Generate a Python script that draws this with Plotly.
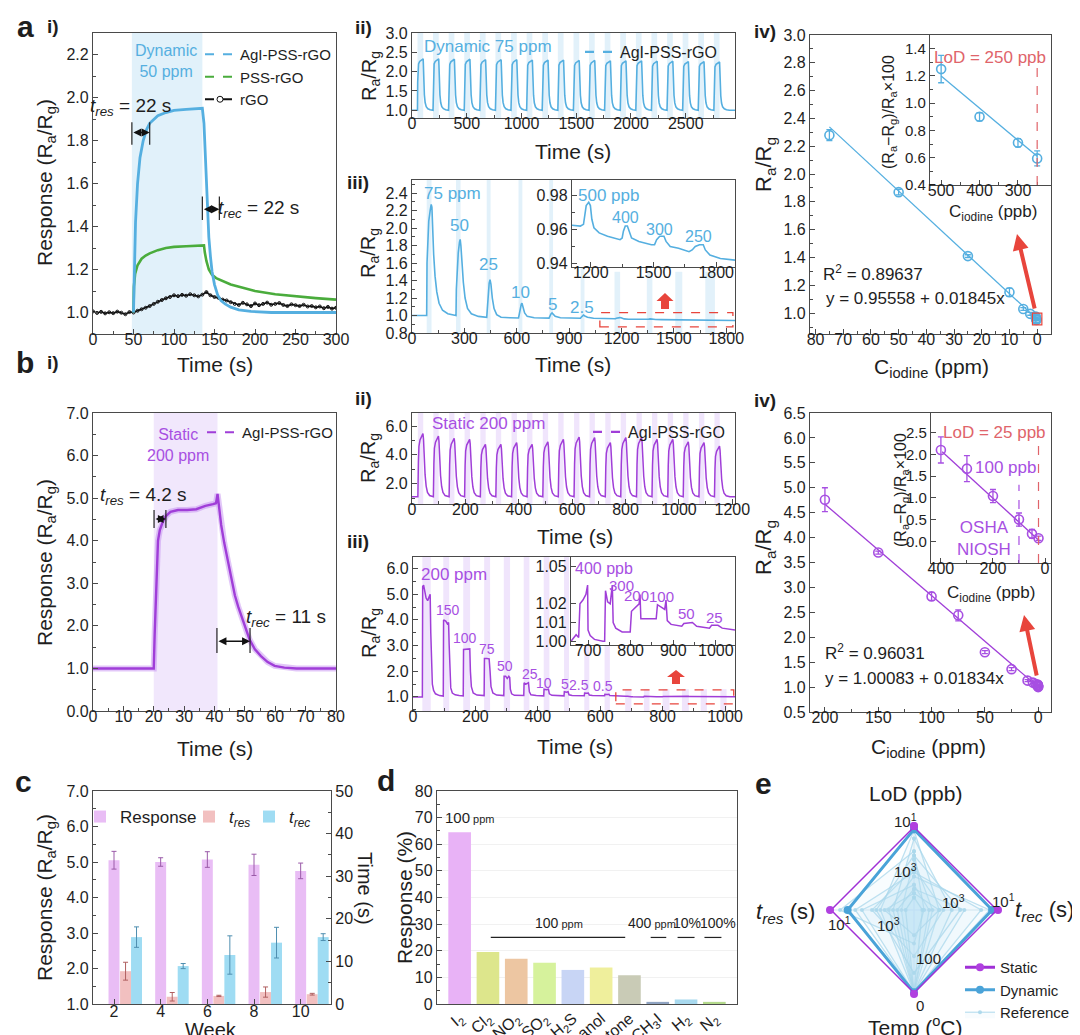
import plotly.graph_objects as go

W, H = 1080, 1035
FONT = "Liberation Sans, Arial, Helvetica, sans-serif"
INK = "#1e1e1e"
AXC = "#4a4a4a"
BLUE = "#55afe0"
BLUE_BAND = "rgba(150,205,238,0.28)"
PURPLE = "#a03ed8"
PURPLE_TXT = "#a74fe2"
PURPLE_BAND = "rgba(205,170,245,0.30)"
GREEN = "#4aac3c"
RED = "#e8453c"
RED_TXT = "#e0646a"

# ---------------- data: a(i) ----------------
A1_AGI_T = [50, 51, 52.5, 55, 58, 62, 66, 70, 75, 80, 90, 100, 115, 135, 137, 139, 141, 143, 145, 147,
            150, 154, 158, 163, 170, 180, 195, 220, 260, 300]
A1_AGI_Y = [1.0, 1.2, 1.42, 1.6, 1.72, 1.8, 1.85, 1.88, 1.9, 1.915, 1.93, 1.94, 1.945, 1.95, 1.88, 1.72,
            1.5, 1.35, 1.26, 1.19, 1.13, 1.08, 1.055, 1.04, 1.025, 1.012, 1.005, 1.0, 1.0, 1.0]
A1_PSS_T = [50, 50.5, 52, 55, 60, 65, 70, 80, 90, 100, 115, 137, 138, 140, 143, 147, 152, 160, 170, 185,
            200, 225, 250, 275, 300]
A1_PSS_Y = [1.0, 1.12, 1.18, 1.22, 1.25, 1.265, 1.275, 1.29, 1.30, 1.305, 1.308, 1.312, 1.28, 1.24, 1.2,
            1.175, 1.16, 1.145, 1.13, 1.115, 1.1, 1.085, 1.075, 1.067, 1.06]
A1_RGO_T = list(range(0, 301, 5))
A1_RGO_Y = [1.005, 0.998, 1.003, 0.996, 1.001, 0.997, 1.004, 0.999, 0.992, 1.002, 1.000,
            1.008, 1.015, 1.022, 1.030, 1.040, 1.050, 1.058, 1.066, 1.072, 1.080,
            1.076, 1.082, 1.078, 1.085, 1.080, 1.075, 1.083, 1.095, 1.080, 1.072,
            1.068, 1.060, 1.056, 1.048, 1.040, 1.035, 1.045, 1.038, 1.030, 1.042,
            1.034, 1.040, 1.046, 1.036, 1.040, 1.044, 1.035, 1.030, 1.038, 1.034,
            1.030, 1.036, 1.028, 1.030, 1.024, 1.028, 1.020, 1.026, 1.018, 1.022]

# ---------------- data: a(ii) cycles ----------------
A2_STARTS = [50, 192, 335, 477, 620, 762, 905, 1047, 1190, 1332, 1475, 1617, 1760, 1902, 2045, 2187,
             2330, 2472, 2615, 2757]
A2_PEAKS = [2.33, 2.33, 2.32, 2.32, 2.31, 2.31, 2.31, 2.30, 2.30, 2.30, 2.29, 2.29, 2.28, 2.28, 2.28,
            2.27, 2.27, 2.26, 2.26, 2.25]
A2_BASE = 1.0
A2_SHAPE_DT = [0, 2, 5, 10, 20, 35, 52, 54, 58, 63, 70, 80, 95, 115, 142]
A2_SHAPE_F = [0, 0.55, 0.8, 0.9, 0.95, 0.98, 1.0, 0.88, 0.55, 0.3, 0.15, 0.07, 0.03, 0.01, 0]
A2_ON = 52

# ---------------- data: a(iii) ----------------
A3_T = [0, 84, 86, 90, 96, 104, 110, 114, 118, 124, 132, 142, 155, 175, 205, 250,
        252, 254, 259, 265, 272, 276, 280, 286, 294, 304, 318, 340, 380, 428,
        430, 436, 442, 447, 452, 460, 470, 485, 510, 560, 610,
        613, 620, 626, 630, 636, 645, 660, 700, 785,
        788, 795, 802, 808, 820, 850, 965,
        968, 975, 982, 990, 1005, 1040, 1100]
A3_Y = [1.0, 1.0, 1.6, 1.9, 2.08, 2.2, 2.27, 2.24, 2.0, 1.7, 1.45, 1.27, 1.14, 1.06, 1.02, 1.0,
        1.0, 1.3, 1.55, 1.72, 1.84, 1.87, 1.8, 1.6, 1.38, 1.2, 1.08, 1.02, 0.99, 0.98,
        1.05, 1.25, 1.37, 1.41, 1.36, 1.2, 1.08, 1.01, 0.98, 0.975, 0.972,
        1.0, 1.09, 1.13, 1.14, 1.1, 1.03, 0.99, 0.975, 0.97,
        0.985, 1.015, 1.03, 1.02, 0.99, 0.975, 0.968,
        0.978, 0.995, 1.005, 0.995, 0.98, 0.968, 0.963]
A3I_T = [1110, 1150, 1165, 1170, 1178, 1190, 1198, 1205, 1215, 1240, 1280, 1340, 1350, 1356, 1365, 1375,
         1382, 1395, 1430, 1490, 1505, 1515, 1530, 1550, 1560, 1580, 1620, 1670, 1685, 1700, 1720, 1738,
         1748, 1770, 1820, 1890]
A3I_Y = [0.9625, 0.962, 0.963, 0.968, 0.974, 0.976, 0.974, 0.966, 0.961, 0.958, 0.956, 0.954, 0.955,
         0.959, 0.962, 0.962, 0.959, 0.955, 0.953, 0.951, 0.951, 0.954, 0.956, 0.956, 0.953, 0.950,
         0.949, 0.947, 0.948, 0.950, 0.951, 0.951, 0.948, 0.945, 0.943, 0.942]
A3_BANDS = [(84, 112), (252, 278), (428, 450), (610, 632), (786, 808), (966, 988)]
A3I_BANDS = [(1160, 1192), (1345, 1377), (1508, 1548), (1680, 1735)]
A3_LABELS = ["50", "25", "10", "5", "2.5"]
A3_LABEL_T = [273, 440, 620, 806, 975]
A3_LABEL_Y = [2.03, 1.58, 1.26, 1.13, 1.09]
A3I_LABELS = ["400", "300", "250"]
A3I_LABEL_T = [1365, 1528, 1716]
A3I_LABEL_Y = [0.967, 0.960, 0.956]

# ---------------- data: a(iv) ----------------
A4_X = [75, 50, 25, 10, 5, 2.5, 0.5, 0.4, 0.3, 0.25]
A4_Y = [2.28, 1.87, 1.41, 1.15, 1.03, 0.995, 0.975, 0.962, 0.956, 0.951]
A4_E = [0.04, 0.02, 0.01, 0.03, 0.01, 0.01, 0.005, 0.003, 0.003, 0.003]
A4_FIT = (0.95558, 0.01845)
A4_FIT_X = [75, 0]
A4I_X = [500, 400, 300, 250]
A4I_Y = [1.25, 0.90, 0.71, 0.595]
A4I_E = [0.10, 0.03, 0.03, 0.055]
A4I_FIT_X = [500, 250]
A4I_FIT_Y = [1.20, 0.61]

# ---------------- data: b(i) ----------------
B1_T = [0, 20, 20.3, 20.8, 21.4, 22, 23, 24, 25.5, 28, 31, 34, 37, 39.5, 40.5, 41, 41.6, 42.2, 43.2, 44.4,
        45.5, 46.7, 47.8, 48.8, 50.2, 51.6, 53.3, 55.3, 57.5, 59.8, 63, 67, 80]
B1_Y = [1.0, 1.0, 1.8, 3.0, 4.0, 4.25, 4.45, 4.58, 4.68, 4.72, 4.72, 4.74, 4.82, 4.86, 4.88, 5.1, 4.75,
        4.37, 3.95, 3.52, 3.1, 2.72, 2.45, 2.23, 1.93, 1.67, 1.45, 1.29, 1.15, 1.06, 1.02, 1.0, 1.0]

# ---------------- data: b(ii) cycles ----------------
B2_STARTS = [22, 80, 139, 197, 256, 314, 373, 431, 490, 548, 607, 665, 724, 782, 841, 899, 958, 1016,
             1075, 1133]
B2_PEAKS = [5.47, 5.30, 5.15, 5.08, 4.73, 4.73, 4.85, 4.73, 4.90, 5.07, 5.24, 5.20, 4.85, 5.20, 5.20,
            5.08, 5.08, 4.90, 4.85, 4.60]
B2_BASE = 1.1
B2_SHAPE_DT = [0, 2, 4, 8, 14, 19, 21, 24, 27, 31, 36, 44, 58]
B2_SHAPE_F = [0, 0.55, 0.8, 0.9, 0.95, 1.0, 0.92, 0.6, 0.35, 0.17, 0.07, 0.02, 0]
B2_ON = 20

# ---------------- data: b(iii) ----------------
B3_T = [0, 30, 31, 34, 38, 42, 47, 52, 55, 57, 59, 62, 66, 72, 85, 97,
        98, 105, 110, 114, 116, 118, 121, 126, 135, 148, 161,
        162, 172, 182, 184, 187, 193, 205, 228,
        229, 236, 244, 247, 250, 256, 268, 291,
        292, 297, 302, 307, 310, 312, 316, 325, 355,
        356, 362, 370, 373, 378, 395, 419,
        420, 428, 434, 437, 445, 484,
        485, 492, 497, 500, 510, 549,
        550, 556, 562, 565, 575, 614,
        615, 622, 628, 631, 645, 660]
B3_Y = [1.0, 1.0, 5.3, 5.35, 5.1, 4.85, 4.75, 4.95, 5.0, 3.5, 2.0, 1.5, 1.25, 1.12, 1.05, 1.03,
        4.0, 3.95, 3.85, 3.9, 3.0, 1.8, 1.35, 1.15, 1.08, 1.05, 1.04,
        2.85, 2.85, 2.87, 2.0, 1.4, 1.15, 1.07, 1.05,
        2.5, 2.5, 2.48, 2.0, 1.4, 1.15, 1.07, 1.05,
        1.8, 1.8, 1.72, 1.8, 1.75, 1.3, 1.12, 1.06, 1.05,
        1.55, 1.5, 1.55, 1.2, 1.08, 1.05, 1.04,
        1.3, 1.28, 1.3, 1.12, 1.06, 1.04,
        1.2, 1.18, 1.2, 1.08, 1.05, 1.04,
        1.15, 1.14, 1.15, 1.07, 1.05, 1.04,
        1.1, 1.09, 1.1, 1.05, 1.035, 1.02]
B3I_T = [660, 672, 678, 681, 688, 695, 699, 700, 705, 715, 735, 739, 741, 746, 752, 757, 759, 765, 780,
         799, 802, 812, 820, 822, 824, 835, 860, 863, 872, 880, 883, 886, 895, 920, 925, 945, 955, 985,
         990, 1005, 1015, 1045]
B3I_Y = [1.0, 1.0035, 1.002, 1.02, 1.022, 1.025, 1.03, 1.006, 1.003, 1.001, 1.0, 1.0, 1.027, 1.021,
         1.02, 1.03, 1.01, 1.007, 1.005, 1.005, 1.016, 1.018, 1.02, 1.025, 1.012, 1.012, 1.012, 1.0195,
         1.018, 1.017, 1.022, 1.011, 1.009, 1.008, 1.0095, 1.01, 1.008, 1.007, 1.0085, 1.0085, 1.007,
         1.006]
B3_BANDS = [(30, 57), (97, 116), (161, 183), (228, 247), (291, 311), (355, 373), (419, 437),
            (484, 500), (549, 565), (614, 631)]
B3I_BANDS = [(680, 700), (740, 758), (800, 822), (862, 884), (922, 942), (985, 1005)]
B3_LABELS = ["150", "100", "75", "50", "25", "10", "5", "2.5", "0.5"]
B3_LABEL_T = [111, 168, 238, 296, 375, 419, 486, 532, 610]
B3_LABEL_Y = [4.4, 3.3, 2.85, 2.2, 1.9, 1.55, 1.5, 1.45, 1.42]
B3I_LABELS = ["300", "200", "100", "50", "25"]
B3I_LABEL_T = [778, 813, 873, 930, 997]
B3I_LABEL_Y = [1.030, 1.0247, 1.024, 1.015, 1.0126]

# ---------------- data: b(iv) ----------------
B4_X = [200, 150, 100, 75, 50, 25, 10, 5, 2.5, 0.5, 0.4, 0.3, 0.2, 0.1, 0.05, 0.025]
B4_Y = [4.76, 3.70, 2.82, 2.44, 1.70, 1.36, 1.13, 1.09, 1.06, 1.05, 1.04, 1.03, 1.03, 1.02, 1.01, 1.0]
B4_E = [0.24, 0.03, 0.08, 0.11, 0.03, 0.03, 0.02, 0.02, 0.02, 0.01, 0.01, 0.01, 0.01, 0.01, 0.01, 0.01]
B4_FIT = (1.00083, 0.01834)
B4_FIT_X = [200, 0]
B4I_X = [400, 300, 200, 100, 50, 25]
B4I_Y = [2.10, 1.67, 1.04, 0.50, 0.17, 0.07]
B4I_E = [0.30, 0.30, 0.15, 0.15, 0.10, 0.05]
B4I_FIT_X = [395, 20]
B4I_FIT_Y = [2.06, 0.0]

# ---------------- data: c ----------------
WEEKS = [2, 4, 6, 8, 10]
RESP = [5.05, 5.00, 5.07, 4.92, 4.75]
RESP_E = [0.25, 0.12, 0.22, 0.30, 0.22]
TRES = [7.7, 1.7, 1.9, 2.8, 2.3]
TRES_E = [2.1, 1.0, 0.15, 1.2, 0.2]
TREC = [15.7, 8.9, 11.5, 14.4, 15.7]
TREC_E = [2.4, 0.6, 4.5, 3.6, 0.8]

# ---------------- data: d ----------------
GASES = ["I<sub>2</sub>", "Cl<sub>2</sub>", "NO<sub>2</sub>", "SO<sub>2</sub>", "H<sub>2</sub>S",
         "Ethanol", "Acetone", "CH<sub>3</sub>I", "H<sub>2</sub>", "N<sub>2</sub>"]
GAS_RESP = [64.5, 19.5, 17.0, 15.5, 12.8, 13.7, 10.8, 0.8, 1.7, 0.8]
GAS_COLORS = ["#e8b2f6", "#dde68c", "#edc6a2", "#d6f29c", "#c8d5f5", "#efef9c", "#c9cbb6", "#90a4c2",
              "#a8d9ee", "#b4da8c"]

# ---------------- data: e ----------------
RADAR_AXES = ["LoD", "trec", "Temp", "tres"]
STATIC_R = [1.0, 1.0, 1.0, 1.0]
DYNAMIC_R = [0.96, 0.93, 0.98, 0.79]
REFERENCE_R = [
    [0.95, 0.30, 0.98, 0.40],
    [0.60, 0.22, 0.98, 0.15],
    [0.40, 0.90, 0.98, 0.30],
    [0.50, 0.35, 0.55, 0.50],
    [0.30, 0.18, 0.98, 0.62],
    [0.70, 0.12, 0.40, 0.88],
    [0.25, 0.60, 0.98, 0.20],
    [0.85, 0.45, 0.98, 0.25],
    [0.20, 0.30, 0.30, 0.35],
    [0.45, 0.80, 0.98, 0.70],
    [0.15, 0.10, 0.98, 0.10],
    [0.65, 0.55, 0.75, 0.45],
]


# ---------------- helpers ----------------
def build_cycles(starts, peaks, base, dts, fracs, t_end):
    xs, ys = [0.0], [base]
    for s, p in zip(starts, peaks):
        for dt, f in zip(dts, fracs):
            xs.append(s + dt)
            ys.append(base + f * (p - base))
    xs.append(t_end)
    ys.append(base)
    return xs, ys


def xdom(a, b):
    return [a / W, b / W]


def ydom(top, bottom):
    return [1 - bottom / H, 1 - top / H]


def PX(x):
    return x / W


def PY(y):
    return 1 - y / H


def axis(domain, anchor, rng, minor=None, tfs=16, **kw):
    d = dict(domain=domain, anchor=anchor, range=rng, showline=True, linecolor=AXC, linewidth=1.3,
             mirror=True, ticks="inside", ticklen=5, tickwidth=1.2, tickcolor=AXC, showgrid=False,
             zeroline=False, automargin=False, fixedrange=True,
             tickfont=dict(family=FONT, size=tfs, color=INK))
    if minor is not None:
        d["minor"] = dict(dtick=minor, ticks="inside", ticklen=3, tickwidth=1, tickcolor=AXC, showgrid=False)
    d.update(kw)
    return d


def xaxis(domain, anchor, rng, **kw):
    kw.setdefault("ticklabelstandoff", -9)
    return axis(domain, anchor, rng, **kw)


traces = []
shapes = []
annotations = []


def add_ann(text, x, y, xref="paper", yref="paper", size=16, color=INK, xanchor="center",
            yanchor="middle", bold=False, **kw):
    if bold:
        text = "<b>" + text + "</b>"
    annotations.append(dict(text=text, x=x, y=y, xref=xref, yref=yref, showarrow=False,
                            xanchor=xanchor, yanchor=yanchor,
                            font=dict(family=FONT, size=size, color=color), **kw))


def add_title(text, xpx, ypx, size=21, vertical=False):
    add_ann(text, PX(xpx), PY(ypx), size=size, textangle=-90 if vertical else 0)


def add_band(xa, ya, x0, x1, color, y0=None, y1=None):
    if y0 is None:
        shapes.append(dict(type="rect", xref=xa, yref=ya + " domain", x0=x0, x1=x1, y0=0, y1=1,
                           fillcolor=color, line=dict(width=0), layer="below"))
    else:
        shapes.append(dict(type="rect", xref=xa, yref=ya, x0=x0, x1=x1, y0=y0, y1=y1,
                           fillcolor=color, line=dict(width=0), layer="below"))


def add_dbl_arrow(xa, ya, x0, x1, y, ybar0, ybar1):
    for xv in (x0, x1):
        shapes.append(dict(type="line", xref=xa, yref=ya, x0=xv, x1=xv, y0=ybar0, y1=ybar1,
                           line=dict(color="#222", width=1.2)))
    annotations.append(dict(text="", x=x1, y=y, ax=x0, ay=y, xref=xa, yref=ya, axref=xa, ayref=ya,
                            showarrow=True, arrowhead=2, arrowside="end+start", arrowsize=1,
                            arrowwidth=1.6, arrowcolor="#111"))


def block_arrow(cx, top, head_h, head_w, stem_h, stem_w):
    pts = [(cx, top), (cx + head_w / 2, top + head_h), (cx + stem_w / 2, top + head_h),
           (cx + stem_w / 2, top + head_h + stem_h), (cx - stem_w / 2, top + head_h + stem_h),
           (cx - stem_w / 2, top + head_h), (cx - head_w / 2, top + head_h)]
    path = "M " + " L ".join(f"{PX(x):.5f},{PY(y):.5f}" for x, y in pts) + " Z"
    shapes.append(dict(type="path", xref="paper", yref="paper", path=path, fillcolor=RED,
                       line=dict(width=0)))


def legend_dummy(name, color, legend, xa, ya, marker=False):
    traces.append(go.Scatter(x=[None], y=[None], mode="lines+markers" if marker else "lines",
                             name=name, legend=legend, xaxis=xa, yaxis=ya,
                             line=dict(color=color, width=2.2, dash="dash"),
                             marker=dict(symbol="circle-open", size=6, color=color)))


# ======================= a(i) =======================
traces.append(go.Scatter(x=A1_RGO_T, y=A1_RGO_Y, mode="lines+markers", xaxis="x", yaxis="y",
                         line=dict(color="#111", width=1.6), marker=dict(symbol="circle-open", size=3,
                                                                          color="#111"),
                         showlegend=False))
traces.append(go.Scatter(x=A1_PSS_T, y=A1_PSS_Y, mode="lines", xaxis="x", yaxis="y",
                         line=dict(color=GREEN, width=2.6), showlegend=False))
traces.append(go.Scatter(x=A1_AGI_T, y=A1_AGI_Y, mode="lines", xaxis="x", yaxis="y",
                         line=dict(color=BLUE, width=2.8), showlegend=False))
legend_dummy("AgI-PSS-rGO", BLUE, "legend", "x", "y")
legend_dummy("PSS-rGO", GREEN, "legend", "x", "y")
legend_dummy("rGO", "#111", "legend", "x", "y", marker=True)
add_band("x", "y", 48, 135, "rgba(170,215,242,0.35)")
add_ann("Dynamic<br>50 ppm", 90, 2.17, "x", "y", size=16, color=BLUE)
add_ann("<i>t<sub>res</sub></i> = 22 s", 46, 1.955, "x", "y", size=19)
add_dbl_arrow("x", "y", 48, 70, 1.837, 1.78, 1.885)
add_ann("<i>t<sub>rec</sub></i> = 22 s", 204, 1.48, "x", "y", size=19)
add_dbl_arrow("x", "y", 135, 156, 1.48, 1.43, 1.54)

# ======================= a(ii) =======================
a2x, a2y = build_cycles(A2_STARTS, A2_PEAKS, A2_BASE, A2_SHAPE_DT, A2_SHAPE_F, 2950)
traces.append(go.Scatter(x=a2x, y=a2y, mode="lines", xaxis="x2", yaxis="y2",
                         line=dict(color=BLUE, width=1.6), showlegend=False))
for s in A2_STARTS:
    add_band("x2", "y2", s, s + A2_ON, BLUE_BAND)
legend_dummy("AgI-PSS-rGO", BLUE, "legend2", "x2", "y2")
add_ann("Dynamic 75 ppm", 90, 2.64, "x2", "y2", size=17, color=BLUE, xanchor="left")

# ======================= a(iii) =======================
traces.append(go.Scatter(x=A3_T + A3I_T, y=A3_Y + A3I_Y, mode="lines", xaxis="x3", yaxis="y3",
                         line=dict(color=BLUE, width=1.6), showlegend=False))
for b0, b1 in A3_BANDS:
    add_band("x3", "y3", b0, b1, BLUE_BAND)
for b0, b1 in A3I_BANDS:
    add_band("x3", "y3", b0, b1, BLUE_BAND, 0.8, 1.5)
add_ann("75 ppm", 60, 2.4, "x3", "y3", size=17, color=BLUE, xanchor="left")
for lab, t, yv in zip(A3_LABELS, A3_LABEL_T, A3_LABEL_Y):
    add_ann(lab, t, yv, "x3", "y3", size=17, color=BLUE)
shapes.append(dict(type="rect", xref="x3", yref="y3", x0=1076, x1=1838, y0=0.87, y1=1.032,
                   line=dict(color=RED, width=1.3, dash="dash")))
block_arrow(657, 285, 8, 17, 8, 8)

traces.append(go.Scatter(x=A3I_T, y=A3I_Y, mode="lines", xaxis="x4", yaxis="y4",
                         line=dict(color=BLUE, width=1.6), showlegend=False))
for b0, b1 in A3I_BANDS:
    add_band("x4", "y4", b0, b1, BLUE_BAND)
add_ann("500 ppb", 1128, 0.98, "x4", "y4", size=17, color=BLUE, xanchor="left")
for lab, t, yv in zip(A3I_LABELS, A3I_LABEL_T, A3I_LABEL_Y):
    add_ann(lab, t, yv, "x4", "y4", size=16, color=BLUE)

# ======================= a(iv) =======================
traces.append(go.Scatter(x=A4_FIT_X, y=[A4_FIT[0] + A4_FIT[1] * v for v in A4_FIT_X], mode="lines",
                         xaxis="x5", yaxis="y5", line=dict(color=BLUE, width=1.3), showlegend=False))
traces.append(go.Scatter(x=A4_X, y=A4_Y, mode="markers", xaxis="x5", yaxis="y5",
                         marker=dict(symbol="circle-open", size=9, color=BLUE, line=dict(width=1.6)),
                         error_y=dict(type="data", array=A4_E, color=BLUE, thickness=1.3, width=3),
                         showlegend=False))
add_ann("R<sup>2</sup> = 0.89637", 78, 1.29, "x5", "y5", size=17, xanchor="left")
add_ann("y = 0.95558 + 0.01845x", 77, 1.108, "x5", "y5", size=17, xanchor="left")
shapes.append(dict(type="rect", xref="x5", yref="y5", x0=1.7, x1=-1.7, y0=0.915, y1=1.0,
                   line=dict(color=RED, width=1.2)))
annotations.append(dict(text="", x=PX(1009), y=PY(226), ax=18, ay=76, xref="paper", yref="paper",
                        showarrow=True, arrowhead=2, arrowsize=0.8, arrowwidth=4, arrowcolor=RED))

traces.append(go.Scatter(x=A4I_FIT_X, y=A4I_FIT_Y, mode="lines", xaxis="x6", yaxis="y6",
                         line=dict(color=BLUE, width=1.3), showlegend=False))
traces.append(go.Scatter(x=A4I_X, y=A4I_Y, mode="markers", xaxis="x6", yaxis="y6",
                         marker=dict(symbol="circle-open", size=9, color=BLUE, line=dict(width=1.6)),
                         error_y=dict(type="data", array=A4I_E, color=BLUE, thickness=1.3, width=3),
                         showlegend=False))
shapes.append(dict(type="line", xref="x6", yref="y6", x0=250, x1=250, y0=0.4, y1=1.27,
                   line=dict(color=RED_TXT, width=1.2, dash="dash")))
add_ann("LoD = 250 ppb", 222, 1.335, "x6", "y6", size=17, color=RED_TXT, xanchor="right")

# ======================= b(i) =======================
add_band("x7", "y7", 20, 41, "rgba(215,185,245,0.35)")
traces.append(go.Scatter(x=B1_T, y=B1_Y, mode="lines", xaxis="x7", yaxis="y7",
                         line=dict(color="rgba(190,130,240,0.45)", width=6), showlegend=False))
traces.append(go.Scatter(x=B1_T, y=B1_Y, mode="lines", xaxis="x7", yaxis="y7",
                         line=dict(color=PURPLE, width=2.4), showlegend=False))
legend_dummy("AgI-PSS-rGO", PURPLE, "legend3", "x7", "y7")
add_ann("Static<br>200 ppm", 28, 6.25, "x7", "y7", size=16, color=PURPLE_TXT)
add_ann("<i>t<sub>res</sub></i> = 4.2 s", 16.5, 5.05, "x7", "y7", size=19)
add_dbl_arrow("x7", "y7", 20.1, 24.0, 4.51, 4.3, 4.72)
add_ann("<i>t<sub>rec</sub></i> = 11 s", 63.5, 2.18, "x7", "y7", size=19)
add_dbl_arrow("x7", "y7", 40.8, 51.7, 1.64, 1.36, 1.95)

# ======================= b(ii) =======================
b2x, b2y = build_cycles(B2_STARTS, B2_PEAKS, B2_BASE, B2_SHAPE_DT, B2_SHAPE_F, 1210)
for s in B2_STARTS:
    add_band("x8", "y8", s, s + B2_ON, PURPLE_BAND)
traces.append(go.Scatter(x=b2x, y=b2y, mode="lines", xaxis="x8", yaxis="y8",
                         line=dict(color=PURPLE, width=1.5), showlegend=False))
legend_dummy("AgI-PSS-rGO", PURPLE, "legend4", "x8", "y8")
add_ann("Static 200 ppm", 67, 6.2, "x8", "y8", size=17, color=PURPLE_TXT, xanchor="left")

# ======================= b(iii) =======================
for b0, b1 in B3_BANDS:
    add_band("x9", "y9", b0, b1, PURPLE_BAND)
for b0, b1 in B3I_BANDS:
    add_band("x9", "y9", b0, b1, PURPLE_BAND, 0.45, 1.3)
traces.append(go.Scatter(x=B3_T + B3I_T[1:], y=B3_Y + B3I_Y[1:], mode="lines", xaxis="x9", yaxis="y9",
                         line=dict(color=PURPLE, width=1.5), showlegend=False))
add_ann("200 ppm", 18, 5.75, "x9", "y9", size=17, color=PURPLE_TXT, xanchor="left")
for lab, t, yv in zip(B3_LABELS, B3_LABEL_T, B3_LABEL_Y):
    add_ann(lab, t, yv, "x9", "y9", size=14, color=PURPLE_TXT)
shapes.append(dict(type="rect", xref="x9", yref="y9", x0=650, x1=1028, y0=0.73, y1=1.27,
                   line=dict(color=RED, width=1.3, dash="dash")))
block_arrow(668, 662, 7, 18, 7, 8)

for b0, b1 in B3I_BANDS:
    add_band("x10", "y10", b0, b1, PURPLE_BAND)
traces.append(go.Scatter(x=B3I_T, y=B3I_Y, mode="lines", xaxis="x10", yaxis="y10",
                         line=dict(color=PURPLE, width=1.5), showlegend=False))
add_ann("400 ppb", 665, 1.039, "x10", "y10", size=16, color=PURPLE_TXT, xanchor="left")
for lab, t, yv in zip(B3I_LABELS, B3I_LABEL_T, B3I_LABEL_Y):
    add_ann(lab, t, yv, "x10", "y10", size=15, color=PURPLE_TXT)

# ======================= b(iv) =======================
traces.append(go.Scatter(x=B4_FIT_X, y=[B4_FIT[0] + B4_FIT[1] * v for v in B4_FIT_X], mode="lines",
                         xaxis="x11", yaxis="y11", line=dict(color=PURPLE, width=1.3), showlegend=False))
traces.append(go.Scatter(x=B4_X, y=B4_Y, mode="markers", xaxis="x11", yaxis="y11",
                         marker=dict(symbol="circle-open", size=9, color=PURPLE_TXT, line=dict(width=1.6)),
                         error_y=dict(type="data", array=B4_E, color=PURPLE_TXT, thickness=1.3, width=3),
                         showlegend=False))
add_ann("R<sup>2</sup> = 0.96031", 202, 1.71, "x11", "y11", size=17, xanchor="left")
add_ann("y = 1.00083 + 0.01834x", 202, 1.18, "x11", "y11", size=17, xanchor="left")
annotations.append(dict(text="", x=PX(1016), y=PY(607), ax=13, ay=62, xref="paper", yref="paper",
                        showarrow=True, arrowhead=2, arrowsize=0.8, arrowwidth=4, arrowcolor=RED))

traces.append(go.Scatter(x=B4I_FIT_X, y=B4I_FIT_Y, mode="lines", xaxis="x12", yaxis="y12",
                         line=dict(color=PURPLE, width=1.3), showlegend=False))
traces.append(go.Scatter(x=B4I_X, y=B4I_Y, mode="markers", xaxis="x12", yaxis="y12",
                         marker=dict(symbol="circle-open", size=9, color=PURPLE_TXT, line=dict(width=1.6)),
                         error_y=dict(type="data", array=B4I_E, color=PURPLE_TXT, thickness=1.3, width=3),
                         showlegend=False))
shapes.append(dict(type="line", xref="x12", yref="y12", x0=25, x1=25, y0=-0.5, y1=2.3,
                   line=dict(color=RED_TXT, width=1.2, dash="dash")))
shapes.append(dict(type="line", xref="x12", yref="y12", x0=100, x1=100, y0=-0.5, y1=1.3,
                   line=dict(color=PURPLE_TXT, width=1.2, dash="dash")))
add_ann("LoD = 25 ppb", -12, 2.5, "x12", "y12", size=17, color=RED_TXT, xanchor="right")
add_ann("100 ppb", 150, 1.69, "x12", "y12", size=17, color=PURPLE_TXT)
add_ann("OSHA<br>NIOSH", 235, 0.07, "x12", "y12", size=17, color=PURPLE_TXT)

# ======================= c =======================
traces.append(go.Bar(x=WEEKS, y=RESP, width=0.47, offset=-0.235, name="Response", legend="legend5",
                     xaxis="x13", yaxis="y13", marker=dict(color="#e9bdf5", line=dict(width=0)),
                     error_y=dict(type="data", array=RESP_E, color="#9a5aa8", thickness=1, width=2.5)))
traces.append(go.Bar(x=WEEKS, y=TRES, width=0.47, offset=0.26, name="<i>t<sub>res</sub></i>",
                     legend="legend7", xaxis="x13", yaxis="y14",
                     marker=dict(color="#f2c0c0", line=dict(width=0)),
                     error_y=dict(type="data", array=TRES_E, color="#b06060", thickness=1, width=2.5)))
traces.append(go.Bar(x=WEEKS, y=TREC, width=0.47, offset=0.73, name="<i>t<sub>rec</sub></i>",
                     legend="legend8", xaxis="x13", yaxis="y14",
                     marker=dict(color="#9fdcf3", line=dict(width=0)),
                     error_y=dict(type="data", array=TREC_E, color="#4f8fb0", thickness=1, width=2.5)))

# ======================= d =======================
traces.append(go.Bar(x=GASES, y=GAS_RESP, width=0.8, xaxis="x14", yaxis="y15", showlegend=False,
                     marker=dict(color=GAS_COLORS, line=dict(width=0))))
SMALL = "<span style='font-size:11px'> ppm</span>"
add_ann("100" + SMALL, 0.35, 70, "x14", "y15", size=15)
add_ann("100" + SMALL, 3.5, 30.5, "x14", "y15", size=14)
add_ann("400" + SMALL, 6.8, 30.5, "x14", "y15", size=14)
add_ann("10%", 8.05, 30.5, "x14", "y15", size=14)
add_ann("100%", 9.12, 30.5, "x14", "y15", size=14)
for x0, x1 in [(1.1, 5.85), (6.75, 7.3), (7.7, 8.3), (8.65, 9.25)]:
    shapes.append(dict(type="line", xref="x14", yref="y15", x0=x0, x1=x1, y0=25, y1=25,
                       line=dict(color="#222", width=1.2)))

# ======================= e =======================
for i, rr in enumerate(REFERENCE_R):
    traces.append(go.Scatterpolar(r=rr + [rr[0]], theta=RADAR_AXES + [RADAR_AXES[0]],
                                  mode="lines+markers", subplot="polar", name="Reference",
                                  legend="legend6", showlegend=(i == 0),
                                  line=dict(color="rgba(170,215,235,0.75)", width=1.3),
                                  marker=dict(size=4, color="rgba(170,215,235,0.9)"),
                                  fill="toself", fillcolor="rgba(190,225,242,0.10)", cliponaxis=False))
traces.append(go.Scatterpolar(r=DYNAMIC_R + [DYNAMIC_R[0]], theta=RADAR_AXES + [RADAR_AXES[0]],
                              mode="lines+markers", subplot="polar", name="Dynamic", legend="legend6",
                              line=dict(color="#4aa3d8", width=3), marker=dict(size=8, color="#4aa3d8"),
                              cliponaxis=False))
traces.append(go.Scatterpolar(r=STATIC_R + [STATIC_R[0]], theta=RADAR_AXES + [RADAR_AXES[0]],
                              mode="lines+markers", subplot="polar", name="Static", legend="legend6",
                              line=dict(color="#a030d6", width=3), marker=dict(size=8, color="#b040e0"),
                              cliponaxis=False))
add_ann("LoD (ppb)", PX(907), PY(785), size=21)
add_ann("<i>t<sub>res</sub></i> (s)", PX(777), PY(905), size=22)
add_ann("<i>t<sub>rec</sub></i> (s)", PX(1036), PY(903), size=22)
add_ann("Temp (<sup>o</sup>C)", PX(907), PY(1018), size=21)
for txt, xx, yy in [("10<sup>1</sup>", 897, 812), ("10<sup>3</sup>", 897, 862), ("10<sup>3</sup>", 945, 893),
                    ("10<sup>1</sup>", 995, 892), ("10<sup>1</sup>", 831, 915), ("10<sup>3</sup>", 880, 916),
                    ("100", 920, 950), ("0", 912, 997)]:
    add_ann(txt, PX(xx), PY(yy), size=15)

# ======================= axis titles =======================
RA = "R<sub>a</sub>/R<sub>g</sub>"
RESP_T = "Response (R<sub>a</sub>/R<sub>g</sub>)"
CI_PPM = "C<sub>iodine</sub> (ppm)"
CI_PPB = "C<sub>iodine</sub> (ppb)"
FRAC = "(R<sub>a</sub>\u2212R<sub>g</sub>)/R<sub>a</sub>\u00d7100"
add_title("Time (s)", 207, 357)
add_title(RESP_T, 38, 175, vertical=True)
add_title("Time (s)", 565, 143)
add_title(RA, 362, 68, size=20, vertical=True)
add_title("Time (s)", 565, 357)
add_title(RA, 362, 245, size=20, vertical=True)
add_title(CI_PPM, 923, 360)
add_title(RA, 757, 157, size=22, vertical=True)
add_title(CI_PPB, 985, 205, size=17)
add_title(FRAC, 881, 104, size=16, vertical=True)
add_title("Time (s)", 207, 740)
add_title(RESP_T, 38, 555, vertical=True)
add_title("Time (s)", 567, 528)
add_title(RA, 362, 450, size=20, vertical=True)
add_title("Time (s)", 567, 738)
add_title(RA, 362, 625, size=20, vertical=True)
add_title(CI_PPM, 920, 740)
add_title(RA, 757, 540, size=22, vertical=True)
add_title(CI_PPB, 983, 586, size=17)
add_title(FRAC, 893, 482, size=16, vertical=True)
add_title("Week", 203, 1022, size=20)
add_title(RESP_T, 38, 890, vertical=True)
add_ann("Time (s)", PX(357), PY(880), size=20, textangle=90)
add_title("Response (%)", 396, 890, vertical=True)

# ======================= panel labels =======================
for txt, xx, yy, sz in [("a", 17, 18, 30), ("b", 17, 355, 30), ("c", 15, 773, 30), ("d", 378, 772, 30),
                        ("e", 755, 775, 30)]:
    add_ann(txt, PX(xx), PY(yy), size=sz, bold=True)
for txt, xx, yy in [("i)", 45, 18), ("ii)", 355, 20), ("iii)", 350, 174), ("iv)", 757, 23),
                    ("i)", 45, 355), ("ii)", 355, 390), ("iii)", 350, 533), ("iv)", 757, 393)]:
    add_ann(txt, PX(xx), PY(yy), size=19, bold=True)

# ======================= layout =======================
L = {}
L["xaxis"] = xaxis(xdom(85, 328), "y", [0, 300], dtick=50, minor=25)
L["yaxis"] = axis(ydom(25, 326), "x", [0.9, 2.3], dtick=0.2, minor=0.1, tickformat=".1f")
L["xaxis2"] = xaxis(xdom(404, 727), "y2", [0, 2950], dtick=500, minor=250)
L["yaxis2"] = axis(ydom(25, 110), "x2", [0.8, 3.0], dtick=0.5, tick0=1.0, tickformat=".1f")
L["xaxis3"] = xaxis(xdom(404, 727), "y3", [0, 1850], dtick=300, minor=150)
L["yaxis3"] = axis(ydom(172, 325), "x3", [0.8, 2.55], dtick=0.2, minor=0.1, tickformat=".1f")
L["xaxis4"] = xaxis(xdom(564, 727), "y4", [1110, 1890], tickvals=[1200, 1500, 1800], minor=150)
L["yaxis4"] = axis(ydom(172, 259), "x4", [0.938, 0.989], tickvals=[0.94, 0.96, 0.98], tickformat=".2f",
                   minor=0.01)
L["xaxis5"] = xaxis(xdom(802, 1043), "y5", [82, -5], dtick=10, minor=5)
L["yaxis5"] = axis(ydom(27, 326), "x5", [0.85, 3.0], dtick=0.2, minor=0.1, tickformat=".1f")
L["xaxis6"] = xaxis(xdom(922, 1043), "y6", [529, 214], tickvals=[500, 400, 300], minor=50)
L["yaxis6"] = axis(ydom(27, 177), "x6", [0.4, 1.5], dtick=0.2, tick0=0.4, minor=0.1, tickformat=".1f",
                   tfs=15)
L["xaxis7"] = xaxis(xdom(85, 328), "y7", [0, 80], dtick=10, minor=5)
L["yaxis7"] = axis(ydom(405, 703), "x7", [0, 7], dtick=1, minor=0.5, tickformat=".1f")
L["xaxis8"] = xaxis(xdom(404, 727), "y8", [0, 1210], dtick=200, minor=100)
L["yaxis8"] = axis(ydom(405, 496), "x8", [0.6, 6.9], tickvals=[2, 4, 6], tickformat=".1f", minor=1)
L["xaxis9"] = xaxis(xdom(405, 727), "y9", [0, 1032], dtick=200, minor=100)
L["yaxis9"] = axis(ydom(549, 703), "x9", [0.45, 6.45], dtick=1, minor=0.5, tickformat=".1f")
L["xaxis10"] = xaxis(xdom(563, 727), "y10", [660, 1045], tickvals=[700, 800, 900, 1000], minor=50)
L["yaxis10"] = axis(ydom(549, 637), "x10", [0.998, 1.045], tickvals=[1.0, 1.01, 1.02, 1.04],
                    ticktext=["1.00", "1.01", "1.02", "1.05"])
L["xaxis11"] = xaxis(xdom(802, 1043), "y11", [214, -12], dtick=50, minor=25)
L["yaxis11"] = axis(ydom(405, 704), "x11", [0.5, 6.5], dtick=0.5, tickformat=".1f")
L["xaxis12"] = xaxis(xdom(923, 1043), "y12", [438, -23], tickvals=[400, 200, 0], minor=100)
L["yaxis12"] = axis(ydom(405, 555), "x12", [-0.5, 2.95], tickvals=[0, 0.5, 1.0, 1.5, 2.0, 2.5],
                    tickformat=".1f", tfs=15)
L["xaxis13"] = xaxis(xdom(85, 323), "y13", [1.1, 11.3], tickvals=[2, 4, 6, 8, 10], ticklabelstandoff=-7)
L["yaxis13"] = axis(ydom(783, 996), "x13", [1, 7], dtick=1, minor=0.5, tickformat=".1f", mirror=False)
L["yaxis14"] = axis(ydom(783, 996), "x13", [0, 50], dtick=10, minor=5, overlaying="y13", side="right",
                    mirror=False)
L["xaxis14"] = xaxis(xdom(429, 729), "y15", [-0.8, 9.8], tickangle=-40, ticks="", tfs=16,
                     ticklabelstandoff=-2)
L["yaxis15"] = axis(ydom(783, 996), "x14", [0, 80], dtick=10, minor=5, showgrid=True, gridcolor="#f1f1f1")

LEG = dict(bgcolor="rgba(0,0,0,0)", font=dict(family=FONT, size=16, color=INK), itemwidth=30,
           tracegroupgap=0, xanchor="left", yanchor="top")
L["legend"] = dict(LEG, x=PX(192), y=PY(30), font=dict(family=FONT, size=15, color=INK))
L["legend2"] = dict(LEG, x=PX(572), y=PY(27))
L["legend3"] = dict(LEG, x=PX(194), y=PY(408), font=dict(family=FONT, size=15, color=INK))
L["legend4"] = dict(LEG, x=PX(580), y=PY(407))
LEGC = dict(LEG, font=dict(family=FONT, size=17, color=INK))
L["legend5"] = dict(LEGC, x=PX(72), y=PY(791))
L["legend7"] = dict(LEGC, x=PX(181), y=PY(791))
L["legend8"] = dict(LEGC, x=PX(241), y=PY(791))
L["legend6"] = dict(LEG, x=PX(952), y=PY(943), traceorder="reversed",
                    font=dict(family=FONT, size=15, color=INK))

L["polar"] = dict(domain=dict(x=xdom(822, 990), y=ydom(818, 986)), bgcolor="white", gridshape="linear",
                  radialaxis=dict(visible=False, range=[0, 1.0], showgrid=False),
                  angularaxis=dict(direction="clockwise", rotation=90, showline=False,
                                   showticklabels=False, ticks="", showgrid=True, gridcolor="#d6e7f0",
                                   categoryarray=RADAR_AXES, categoryorder="array"))

fig = go.Figure(data=traces)
fig.update_layout(
    template="none", width=W, height=H, autosize=False,
    margin=dict(l=0, r=0, t=0, b=0), paper_bgcolor="white", plot_bgcolor="white",
    font=dict(family=FONT, size=16, color=INK), barmode="overlay", showlegend=True,
    shapes=shapes, annotations=annotations, **L)
fig.write_html("out.html")
